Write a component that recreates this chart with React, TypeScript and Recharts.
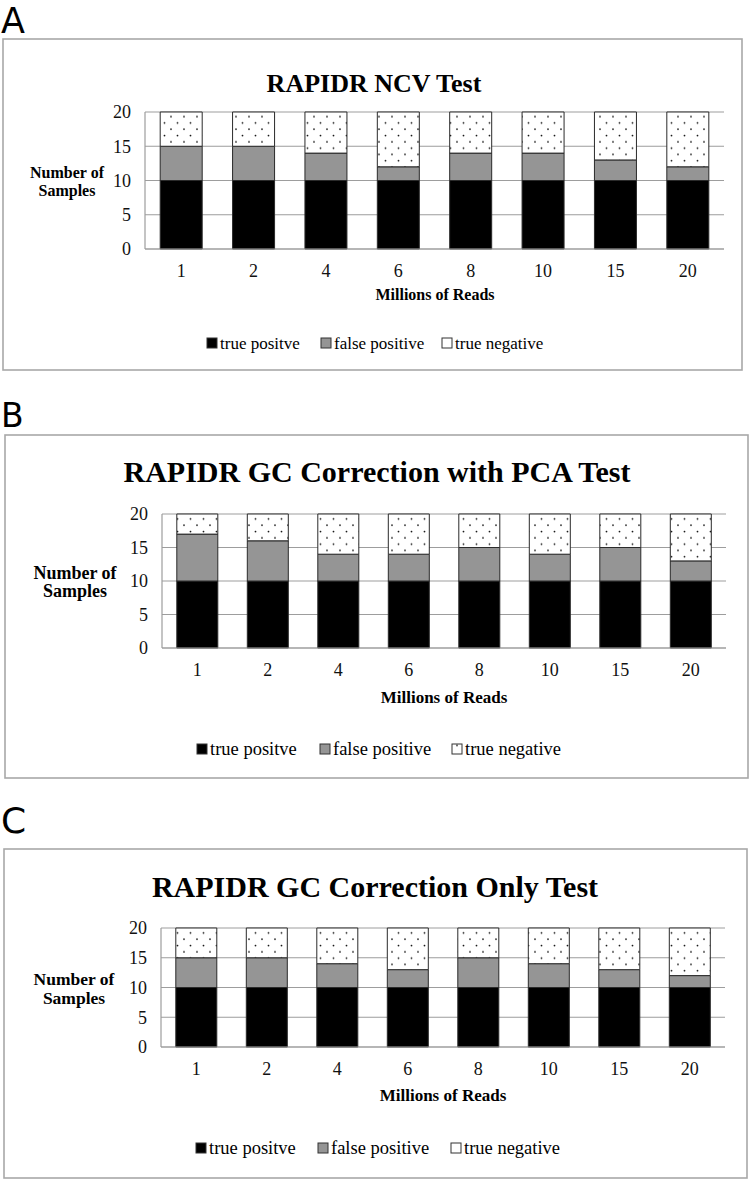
import { BarChart, Bar, XAxis, YAxis, CartesianGrid } from 'recharts';

// x categories (millions of reads) and y ticks
const readsMillions = ['1', '2', '4', '6', '8', '10', '15', '20'];
const sampleTicks = [0, 5, 10, 15, 20];
const seriesNames = ['true positve', 'false positive', 'true negative'];

// A: RAPIDR NCV test
const ncvTruePositive = [10, 10, 10, 10, 10, 10, 10, 10];
const ncvFalsePositive = [5, 5, 4, 2, 4, 4, 3, 2];
const ncvTrueNegative = [5, 5, 6, 8, 6, 6, 7, 8];

// B: GC correction with PCA
const pcaTruePositive = [10, 10, 10, 10, 10, 10, 10, 10];
const pcaFalsePositive = [7, 6, 4, 4, 5, 4, 5, 3];
const pcaTrueNegative = [3, 4, 6, 6, 5, 6, 5, 7];

// C: GC correction only
const gcTruePositive = [10, 10, 10, 10, 10, 10, 10, 10];
const gcFalsePositive = [5, 5, 4, 3, 5, 4, 3, 2];
const gcTrueNegative = [5, 5, 6, 7, 5, 6, 7, 8];

const SERIF = '"Liberation Serif", "Times New Roman", serif';
const GRID = '#9d9d9d';

const layoutA = {
  letterY: 33, letterSize: 35, boxTop: 39, boxBottom: 370, boxLeft: 3, boxRight: 742,
  titleX: 374, titleY: 92, titleSize: 26,
  plotTop: 112, plotBottom: 249, plotLeft: 145, plotRight: 724,
  yLabelX: 67, yLabelY: [178, 196], yLabelSize: 16,
  xLabelX: 435, xLabelY: 300, xLabelSize: 16,
  legendY: 349, legendSize: 17, legendX: [207, 321, 442], dottedKey: false,
};

const layoutB = {
  letterY: 427, letterSize: 33, boxTop: 435, boxBottom: 778, boxLeft: 5, boxRight: 748,
  titleX: 377, titleY: 482, titleSize: 30,
  plotTop: 514, plotBottom: 648, plotLeft: 162, plotRight: 726,
  yLabelX: 75, yLabelY: [579, 597], yLabelSize: 18,
  xLabelX: 444, xLabelY: 703, xLabelSize: 17,
  legendY: 755, legendSize: 18.5, legendX: [197, 320, 452], dottedKey: true,
};

const layoutC = {
  letterY: 833, letterSize: 36, boxTop: 849, boxBottom: 1178, boxLeft: 4, boxRight: 747,
  titleX: 375, titleY: 897, titleSize: 30,
  plotTop: 928, plotBottom: 1047, plotLeft: 161, plotRight: 725,
  yLabelX: 74, yLabelY: [985, 1004], yLabelSize: 17.5,
  xLabelX: 443, xLabelY: 1101, xLabelSize: 17,
  legendY: 1154, legendSize: 18.5, legendX: [196, 318, 451], dottedKey: false,
};

type Layout = typeof layoutA;

function Panel({ id, letter, title, tp, fp, tn, g }: {
  id: string; letter: string; title: string;
  tp: number[]; fp: number[]; tn: number[]; g: Layout;
}) {
  const rows = readsMillions.map((reads, i) => ({ reads, tp: tp[i], fp: fp[i], tn: tn[i] }));
  const h = g.boxBottom - g.boxTop;
  const xAxisHeight = 30;
  const patternId = `dots${id}`;
  const keyFills = ['#000', '#959595', g.dottedKey ? `url(#${patternId})` : '#fff'];

  return (
    <>
      <div style={{ position: 'absolute', left: 0, top: g.boxTop, width: 750, height: h }}>
        <BarChart
          width={750}
          height={h}
          data={rows}
          barCategoryGap='21%'
          margin={{
            top: g.plotTop - g.boxTop,
            right: 750 - g.plotRight,
            bottom: g.boxBottom - g.plotBottom - xAxisHeight,
            left: 0,
          }}
        >
          <defs>
            <pattern id={patternId} width={13} height={12.6} patternUnits='userSpaceOnUse'>
              <rect width={13} height={12.6} fill='#fff' />
              <circle cx={2} cy={2} r={0.9} fill='#111' />
              <circle cx={8.5} cy={8.3} r={0.9} fill='#111' />
            </pattern>
          </defs>
          <CartesianGrid vertical={false} stroke={GRID} strokeWidth={1.2} />
          <XAxis
            dataKey='reads'
            height={xAxisHeight}
            axisLine={{ stroke: GRID, strokeWidth: 1.2 }}
            tickLine={false}
            tickSize={0}
            tickMargin={15}
            tick={{ fontFamily: SERIF, fontSize: 18, fill: '#111' }}
          />
          <YAxis
            width={g.plotLeft}
            domain={[0, 20]}
            ticks={sampleTicks}
            axisLine={{ stroke: GRID, strokeWidth: 1.2 }}
            tickLine={false}
            tickSize={0}
            tickMargin={14}
            tick={{ fontFamily: SERIF, fontSize: 18, fill: '#111' }}
          />
          <Bar dataKey='tp' stackId='s' fill='#000' stroke='#2a2a2a' isAnimationActive={false} />
          <Bar dataKey='fp' stackId='s' fill='#959595' stroke='#2a2a2a' isAnimationActive={false} />
          <Bar dataKey='tn' stackId='s' fill={`url(#${patternId})`} stroke='#2a2a2a' isAnimationActive={false} />
        </BarChart>
      </div>
      <svg
        width={750}
        height={1180}
        style={{ position: 'absolute', left: 0, top: 0, pointerEvents: 'none' }}
      >
        <text x={1} y={g.letterY} fontFamily='"DejaVu Sans", sans-serif' fontSize={g.letterSize} fill='#000'>
          {letter}
        </text>
        <rect
          x={g.boxLeft}
          y={g.boxTop}
          width={g.boxRight - g.boxLeft}
          height={g.boxBottom - g.boxTop}
          fill='none'
          stroke='#a8a8a8'
          strokeWidth={1.6}
        />
        <text x={g.titleX} y={g.titleY} textAnchor='middle' fontFamily={SERIF} fontWeight='bold' fontSize={g.titleSize} fill='#000'>
          {title}
        </text>
        <text textAnchor='middle' fontFamily={SERIF} fontWeight='bold' fontSize={g.yLabelSize} fill='#000'>
          <tspan x={g.yLabelX} y={g.yLabelY[0]}>Number of</tspan>
          <tspan x={g.yLabelX} y={g.yLabelY[1]}>Samples</tspan>
        </text>
        <text x={g.xLabelX} y={g.xLabelY} textAnchor='middle' fontFamily={SERIF} fontWeight='bold' fontSize={g.xLabelSize} fill='#000'>
          Millions of Reads
        </text>
        {seriesNames.map((name, i) => (
          <g key={name}>
            <rect
              x={g.legendX[i]}
              y={g.legendY - 11}
              width={10}
              height={10}
              fill={keyFills[i]}
              stroke='#333'
              strokeWidth={1}
            />
            <text x={g.legendX[i] + 13} y={g.legendY} fontFamily={SERIF} fontSize={g.legendSize} fill='#000'>
              {name}
            </text>
          </g>
        ))}
      </svg>
    </>
  );
}

export default function App() {
  return (
    <div style={{ position: 'relative', width: 750, height: 1180, background: '#fff' }}>
      <style>{'body { margin: 0; }'}</style>
      <Panel id='A' letter='A' title='RAPIDR NCV Test'
        tp={ncvTruePositive} fp={ncvFalsePositive} tn={ncvTrueNegative} g={layoutA} />
      <Panel id='B' letter='B' title='RAPIDR GC Correction with PCA Test'
        tp={pcaTruePositive} fp={pcaFalsePositive} tn={pcaTrueNegative} g={layoutB} />
      <Panel id='C' letter='C' title='RAPIDR GC Correction Only Test'
        tp={gcTruePositive} fp={gcFalsePositive} tn={gcTrueNegative} g={layoutC} />
    </div>
  );
}
